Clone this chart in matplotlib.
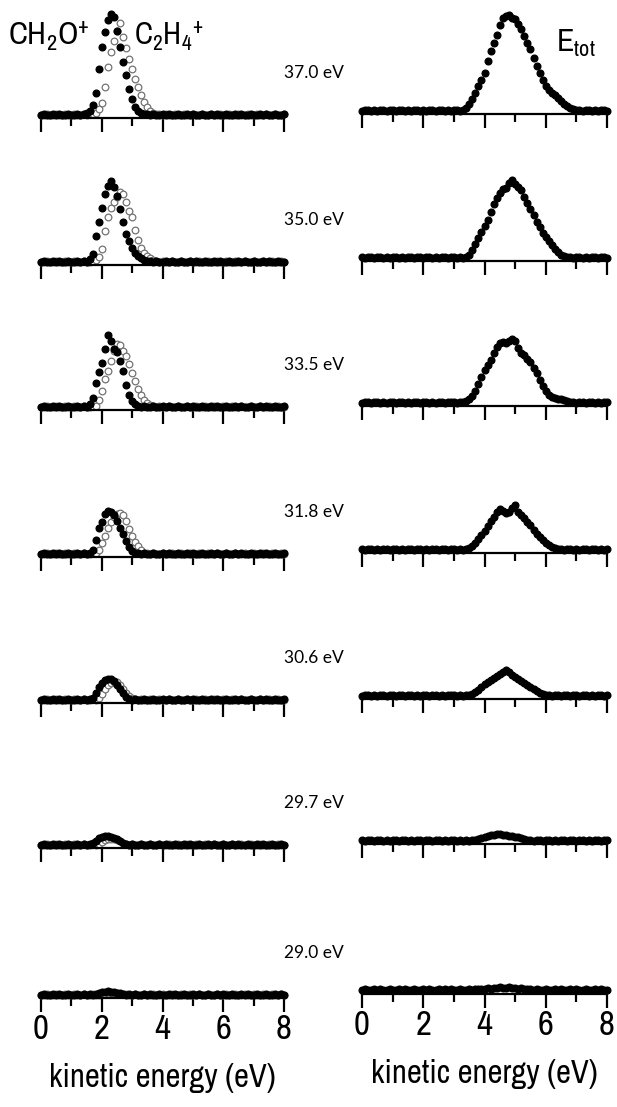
import numpy as np
import matplotlib
matplotlib.use("Agg")
import matplotlib.pyplot as plt
from matplotlib import font_manager

# fonts: condensed sans for axis/titles if one is installed, humanist for the energy labels
names = sorted({f.name for f in font_manager.fontManager.ttflist})
narrow_list = [n for n in names if "Narrow" in n or "Condensed" in n]
narrow = narrow_list[0] if narrow_list else "Liberation Sans"
plt.rcParams["font.family"] = [narrow, "DejaVu Sans"]
plt.rcParams["mathtext.fontset"] = "custom"
plt.rcParams["mathtext.rm"] = narrow
plt.rcParams["mathtext.it"] = narrow
scale = 1.0 if narrow_list else 0.9   # regular width font runs wider

# kinetic energy grid (eV), 0.1 eV steps
energy = np.linspace(0, 8, 81)
photon = ["37.0 eV", "35.0 eV", "33.5 eV", "31.8 eV", "30.6 eV", "29.7 eV", "29.0 eV"]

# CH2O+ (filled), C2H4+ (open), E_tot (right) -- counts
ch2o_370 = [2,3,2,2,3,2,3,2,2,3, 2,2,3,2,3,4,6,12,24,48, 70,85,97,103,100,86,70,55,42,28,
            18,10,6,4,3,3,2,3,2,2, 3,2,3,2,2,3,2,2,3,2, 3,2,2,3,2,2,3,2,3,2,
            2,3,2,2,3,2,3,2,2,3, 2,2,3,2,3,2,2,3,2,2, 3]
c2h4_370 = [2,2,3,2,2,3,2,2,3,2, 2,3,2,2,3,2,3,3,4,8, 14,30,50,65,76,86,94,80,69,58,
            48,38,30,22,15,10,6,4,3,3, 2,3,2,2,3,2,2,3,2,2, 3,2,2,3,2,2,3,2,2,3,
            2,2,3,2,2,3,2,2,3,2, 2,3,2,2,3,2,2,3,2,2, 3]
ch2o_350 = [2,3,2,2,3,2,3,2,2,3, 2,2,3,2,3,2,5,10,28,42, 56,70,78,83,77,68,55,42,30,23,
            16,11,8,6,4,3,3,2,3,2, 2,3,2,3,2,2,3,2,2,3, 2,3,2,2,3,2,2,3,2,3,
            2,2,3,2,2,3,2,3,2,2, 3,2,2,3,2,3,2,2,3,2, 2]
c2h4_350 = [2,2,3,2,2,3,2,2,3,2, 2,3,2,2,3,2,2,3,4,7, 15,33,47,56,62,67,72,70,62,53,
            47,34,24,16,11,8,6,4,3,2, 3,2,2,3,2,2,3,2,2,3, 2,2,3,2,2,3,2,2,3,2,
            2,3,2,2,3,2,2,3,2,2, 3,2,2,3,2,2,3,2,2,3, 2]
ch2o_335 = [2,3,2,2,3,2,3,2,2,3, 2,2,3,2,3,2,5,11,26,37, 46,60,74,68,60,57,48,38,24,14,
            8,5,3,2,3,2,2,3,2,2, 3,2,3,2,2,3,2,2,3,2, 3,2,2,3,2,2,3,2,3,2,
            2,3,2,2,3,2,3,2,2,3, 2,2,3,2,3,2,2,3,2,2, 3]
c2h4_335 = [2,2,3,2,2,3,2,2,3,2, 2,3,2,2,3,2,2,3,3,9, 18,30,38,48,58,65,64,58,53,45,
            36,28,20,14,9,6,4,3,2,3, 2,2,3,2,2,3,2,2,3,2, 2,3,2,2,3,2,2,3,2,2,
            3,2,2,3,2,2,3,2,2,3, 2,2,3,2,2,3,2,2,3,2, 2]
ch2o_318 = [2,3,2,2,3,2,3,2,2,3, 2,2,3,2,3,2,3,6,16,28, 34,42,45,44,41,35,28,22,15,9,
            5,3,3,2,3,2,2,3,2,2, 3,2,3,2,2,3,2,2,3,2, 3,2,2,3,2,2,3,2,3,2,
            2,3,2,2,3,2,3,2,2,3, 2,2,3,2,3,2,2,3,2,2, 3]
c2h4_318 = [2,2,3,2,2,3,2,2,3,2, 2,3,2,2,3,2,2,3,3,6, 13,20,28,34,39,42,43,41,35,27,
            20,14,10,6,3,3,2,3,2,2, 3,2,2,3,2,2,3,2,2,3, 2,2,3,2,2,3,2,2,3,2,
            2,3,2,2,3,2,2,3,2,2, 3,2,2,3,2,2,3,2,2,3, 2]
ch2o_306 = [2,3,2,2,3,2,3,2,2,3, 2,2,3,2,3,2,3,4,9,15, 19,22,23,23,21,17,13,9,5,3,
            2,3,2,2,3,2,2,3,2,2, 3,2,3,2,2,3,2,2,3,2, 3,2,2,3,2,2,3,2,3,2,
            2,3,2,2,3,2,3,2,2,3, 2,2,3,2,3,2,2,3,2,2, 3]
c2h4_306 = [2,2,3,2,2,3,2,2,3,2, 2,3,2,2,3,2,2,3,2,4, 8,13,17,19,20,20,17,13,9,6,
            4,3,2,3,2,2,3,2,2,3, 2,2,3,2,2,3,2,2,3,2, 2,3,2,2,3,2,2,3,2,2,
            3,2,2,3,2,2,3,2,2,3, 2,2,3,2,2,3,2,2,3,2, 2]
ch2o_297 = [2,3,2,2,3,2,3,2,2,3, 2,2,3,2,3,2,3,4,6,9, 10,11,11,10,9,8,6,4,3,2,
            3,2,2,3,2,2,3,2,2,3, 2,3,2,2,3,2,2,3,2,3, 2,2,3,2,2,3,2,3,2,2,
            3,2,2,3,2,3,2,2,3,2, 2,3,2,3,2,2,3,2,2,3, 2]
c2h4_297 = [2,2,3,2,2,3,2,2,3,2, 2,3,2,2,3,2,2,3,2,3, 5,7,8,8,8,7,6,4,3,2,
            3,2,2,3,2,2,3,2,2,3, 2,2,3,2,2,3,2,2,3,2, 2,3,2,2,3,2,2,3,2,2,
            3,2,2,3,2,2,3,2,2,3, 2,2,3,2,2,3,2,2,3,2, 2]
ch2o_290 = [2,3,2,2,3,2,3,2,2,3, 2,2,3,2,3,2,3,2,3,4, 5,5,6,5,5,4,4,3,2,3,
            2,3,2,2,3,2,3,2,2,3, 2,2,3,2,3,2,2,3,2,2, 3,2,3,2,2,3,2,2,3,2,
            3,2,2,3,2,2,3,2,3,2, 2,3,2,2,3,2,2,3,2,3, 2]
c2h4_290 = [2,2,3,2,2,3,2,2,3,2, 2,3,2,2,3,2,2,3,2,2, 3,3,4,4,4,4,3,3,3,2,
            2,3,2,2,3,2,2,3,2,2, 3,2,2,3,2,2,3,2,2,3, 2,2,3,2,2,3,2,2,3,2,
            2,3,2,2,3,2,2,3,2,2, 3,2,2,3,2,2,3,2,2,3, 2]

etot_370 = [2,3,3,2,3,2,3,3,2,3, 3,2,3,3,2,3,2,3,3,2, 3,2,3,3,2,3,3,2,3,2,
            3,3,2,3,5,9,14,20,27,33, 40,52,62,70,78,88,95,97,98,95,
            94,89,84,77,70,64,55,47,40,33, 27,23,20,18,15,12,9,7,5,4,
            3,3,2,3,3,2,3,2,3,3, 2]
etot_350 = [3,2,3,3,2,3,3,2,3,2, 3,3,2,3,2,3,3,2,3,3, 2,3,3,2,3,2,3,3,2,3,
            3,2,3,2,3,5,10,16,22,28, 34,40,48,56,62,67,71,72,77,80,
            76,73,70,63,57,51,45,38,33,27, 23,19,15,11,8,5,4,3,3,2,
            3,3,2,3,2,3,3,2,3,3, 2]
etot_335 = [2,3,3,2,3,3,2,3,2,3, 3,2,3,3,2,3,2,3,3,2, 3,3,2,3,2,3,3,2,3,3,
            3,2,3,3,4,6,9,14,21,28, 35,40,45,52,58,62,63,62,64,66,
            64,57,52,50,46,43,37,32,25,19, 14,10,8,7,6,6,5,4,3,3,
            2,3,3,2,3,3,2,3,2,3, 3]
etot_318 = [3,2,3,3,2,3,2,3,3,2, 3,3,2,3,2,3,3,2,3,3, 2,3,2,3,3,2,3,3,2,3,
            3,2,3,2,3,4,6,9,13,17, 21,26,31,35,40,43,41,39,40,44,
            47,40,37,34,30,27,22,18,15,12, 9,7,5,4,3,3,2,3,3,2,
            3,2,3,3,2,3,3,2,3,2, 3]
etot_306 = [2,3,3,2,3,2,3,3,2,3, 3,2,3,3,2,3,3,2,3,2, 3,3,2,3,3,2,3,2,3,3,
            3,2,3,2,3,3,4,6,8,11, 14,16,18,20,22,24,26,28,26,23,
            21,19,17,15,13,11,9,7,5,4, 3,3,2,3,3,2,3,3,2,3,
            3,2,3,3,2,3,2,3,3,2, 3]
etot_297 = [3,2,3,3,2,3,3,2,3,2, 3,3,2,3,3,2,3,2,3,3, 2,3,3,2,3,3,2,3,2,3,
            3,2,3,2,3,2,3,3,4,5, 6,7,8,8,9,9,8,8,7,7,
            6,6,5,4,3,3,2,3,3,2, 3,3,2,3,2,3,3,2,3,3,
            2,3,3,2,3,2,3,3,2,3, 3]
etot_290 = [3,4,3,3,4,3,4,3,3,4, 3,3,4,3,4,3,3,4,3,3, 4,3,4,3,3,4,3,4,3,4,
            3,3,4,3,3,4,3,4,4,4, 4,5,4,5,5,6,5,5,6,5,
            5,4,5,4,4,4,3,4,3,3, 4,3,3,4,3,4,3,3,4,3,
            4,3,3,4,3,3,4,3,4,3, 3]

ch2o = [ch2o_370, ch2o_350, ch2o_335, ch2o_318, ch2o_306, ch2o_297, ch2o_290]
c2h4 = [c2h4_370, c2h4_350, c2h4_335, c2h4_318, c2h4_306, c2h4_297, c2h4_290]
etot = [etot_370, etot_350, etot_335, etot_318, etot_306, etot_297, etot_290]

W, H = 617, 1107
fig = plt.figure(figsize=(W / 100, H / 100), dpi=100)

base_left = [118, 265, 410, 557, 703, 848, 998]   # axis line, px from top
ax_h = 115


def style(ax, last):
    ax.set_xlim(0, 8)
    ax.set_ylim(-1, ax_h - 1)
    for s in ["left", "right", "top"]:
        ax.spines[s].set_visible(False)
    ax.spines["bottom"].set_linewidth(1.6)
    ax.set_yticks([])
    ax.set_xticks([0, 2, 4, 6, 8])
    ax.set_xticks([1, 3, 5, 7], minor=True)
    ax.tick_params(which="major", length=10, width=1.6, direction="out", pad=1,
                   labelsize=25 * scale)
    ax.tick_params(which="minor", length=6, width=1.6, direction="out")
    if last:
        ax.set_xlabel("kinetic energy (eV)", fontsize=23.5 * scale, labelpad=13)
    else:
        ax.set_xticklabels([])
    ax.patch.set_alpha(0)


for i in range(7):
    b = base_left[i]
    last = i == 6
    axl = fig.add_axes([41 / W, 1 - b / H, 243 / W, ax_h / H])
    axl.plot(energy, c2h4[i], "o", ms=4.8, mfc="white", mec="0.45", mew=0.9, clip_on=False, zorder=2)
    axl.plot(energy, ch2o[i], "o", ms=4.8, color="black", clip_on=False, zorder=3)
    style(axl, last)

    br = b - 4
    axr = fig.add_axes([362 / W, 1 - br / H, 245 / W, ax_h / H])
    axr.plot(energy, etot[i], "o", ms=4.8, color="black", clip_on=False, zorder=3)
    style(axr, last)

    fig.text(284 / W, 1 - (b - 45) / H, photon[i], ha="left", va="center",
             fontsize=12.5, family=["Lato", "DejaVu Sans"])

fig.text(8 / W, 1 - 36 / H, r"CH$_\mathregular{2}$O$^\mathregular{+}$", fontsize=23 * scale, va="center")
fig.text(134 / W, 1 - 36 / H, r"C$_\mathregular{2}$H$_\mathregular{4}$$^\mathregular{+}$",
         fontsize=22 * scale, va="center")
fig.text(556 / W, 1 - 43 / H, r"E$_\mathregular{tot}$", fontsize=23 * scale, va="center")

fig.savefig("out.png", dpi=100)
